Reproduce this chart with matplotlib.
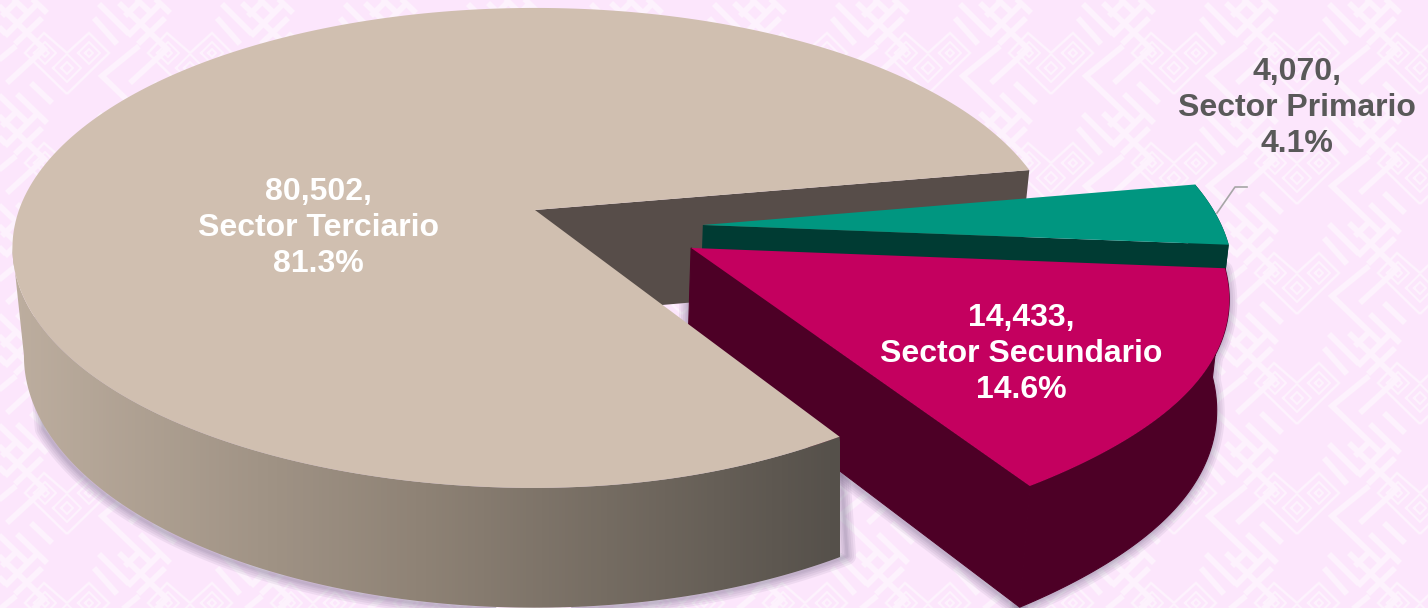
import numpy as np
import matplotlib
matplotlib.use("Agg")
import matplotlib.pyplot as plt
from matplotlib.colors import LinearSegmentedColormap
from matplotlib.patches import Polygon

plt.rcParams['font.family'] = ['Liberation Sans', 'DejaVu Sans']

sectors = ["Sector Terciario", "Sector Secundario", "Sector Primario"]
values = [80502, 14433, 4070]
percents = ["81.3%", "14.6%", "4.1%"]
top_colors = ["#d0bfb0", "#c4005f", "#009680"]
side_colors = ["#574d49", "#4d0026", "#003b33"]
explode = [(0.0, 0.0), (0.295, -0.158), (0.322, -0.0635)]
radius = [1.0, 0.995, 0.995]
label_pos = [(318, 228), (1021, 354), (1297, 108)]
label_colors = ["white", "white", "#595959"]

start_angle = 10.1

# perspective of the tilted pie, pixels
cx, cy = 535, 210
A, B, k = 516, 234, 0.158
depth = 106
shrink = 0.978


def project(x, y, low=False):
    w = 1 + k * y
    s = shrink if low else 1.0
    d = depth if low else 0
    return np.column_stack((cx + s * A * x / w, cy - s * B * y / w + d / w))


def arc(t1, t2, off, r=1.0, dent=0.0):
    # dent pulls the rim left around the lower right corner, as in the picture
    t = np.linspace(t1, t2, 240)
    a = (t + 180) % 360 - 180
    t = np.radians(t)
    x = off[0] + r * np.cos(t) - dent * np.exp(-((a + 57) / 22) ** 2)
    return x, off[1] + r * np.sin(t)


def top_face(t1, t2, off, r=1.0, dent=0.0):
    x, y = arc(t1, t2, off, r, dent)
    return np.vstack((project(np.array([off[0]]), np.array([off[1]])), project(x, y)))


def rim(t1, t2, off, r=1.0, dent=0.0, r_low=1.0, dent_low=0.0):
    x, y = arc(t1, t2, off, r, dent)
    xl, yl = arc(t1, t2, off, r_low, dent_low)
    return np.vstack((project(x, y), project(xl, yl, True)[::-1]))


def wall(t, off, r=1.0, dent=0.0, r_low=1.0, dent_low=0.0):
    x, y = arc(t, t, off, r, dent)
    xl, yl = arc(t, t, off, r_low, dent_low)
    ox, oy = np.array([off[0]]), np.array([off[1]])
    return np.vstack((project(ox, oy), project(x[:1], y[:1]),
                      project(xl[:1], yl[:1], True), project(ox, oy, True)))


def shadow(ax, pts, z):
    for lw in [13, 10, 7, 4, 2]:
        ax.add_patch(Polygon(pts + [-1, 2], closed=True, fc="none", ec="#55486a", lw=lw,
                             alpha=0.08, joinstyle="round", zorder=z))


def diamond(ax, x, y, r, lw, col):
    ax.plot([x - r, x, x + r, x, x - r], [y, y - r, y, y + r, y], color=col, lw=lw, zorder=1)


def draw_motif(ax, x, y, col):
    # background ornament, one repeat
    lines = [
        ([0, -42, -23, 0, 22, 42, 0], [28, -13, -33, -13, -33, -13, 28], 1.8),
        ([-30, -62], [-62, -30], 4.2), ([-25, -52], [-48, -22], 4.2), ([-52, -65], [-63, -50], 4.2),
        ([32, 62], [-62, -32], 4.2), ([27, 50], [-48, -22], 4.2),
        ([52, 100, 63], [-63, -17, 17], 4.2),
        ([72, 35, 85], [-20, 10, 58], 4.2),
        ([73, 103], [28, 57], 4.2), ([87, 108], [17, 37], 4.2),
    ]
    for xs, ys, lw in lines:
        ax.plot(x + np.array(xs), y + np.array(ys), color=col, lw=lw, zorder=1,
                solid_capstyle="butt", solid_joinstyle="miter")
    diamond(ax, x, y + 2, 14, 1.6, col)
    diamond(ax, x, y + 2, 6, 1.6, col)
    for s in [-1, 1]:
        diamond(ax, x + s * 22, y - 13, 11, 1.6, col)
        diamond(ax, x + s * 22, y - 13, 4, 1.6, col)


fig = plt.figure(figsize=(14.28, 6.08), dpi=100)
bg = "#fce6fc"
fig.patch.set_facecolor(bg)
ax = fig.add_axes([0, 0, 1, 1])
ax.set_facecolor(bg)
ax.axis("off")

for i in range(-1, 13):
    for j in range(-1, 7):
        draw_motif(ax, 67 + 123 * i, 66 + 110 * j, "#fdf2fd")

spans = np.array(values) / np.sum(values) * 360
t_ter = (start_angle, start_angle + spans[0])
t_sec = (t_ter[1], t_ter[1] + spans[1])
t_pri = (t_sec[1], t_sec[1] + spans[2])

# back wall of the large slice
ax.add_patch(Polygon(wall(t_ter[0], explode[0]), closed=True, fc=side_colors[0], ec="none", zorder=3))

# primario
ax.add_patch(Polygon(wall(t_pri[0], explode[2], radius[2]), closed=True, fc=side_colors[2], ec="none", zorder=4))
ax.add_patch(Polygon(rim(t_pri[0], t_pri[1], explode[2], radius[2]), closed=True, fc=side_colors[2], ec="none", zorder=4))
ax.add_patch(Polygon(top_face(t_pri[0], t_pri[1], explode[2], radius[2]), closed=True, fc=top_colors[2], ec="none", zorder=5))

# secundario
sec_side = rim(t_sec[0], t_sec[1], explode[1], radius[1], 0.026, 1.0, 0.028)
sec_wall = wall(t_sec[0], explode[1], radius[1], 0.026, 1.0, 0.028)
shadow(ax, sec_side, 2)
shadow(ax, sec_wall, 2)
ax.add_patch(Polygon(sec_wall, closed=True, fc=side_colors[1], ec=side_colors[1], lw=0.8, zorder=6))
ax.add_patch(Polygon(sec_side, closed=True, fc=side_colors[1], ec=side_colors[1], lw=0.8, zorder=6))
ax.add_patch(Polygon(top_face(t_sec[0], t_sec[1], explode[1], radius[1], 0.026), closed=True, fc=top_colors[1], ec="none", zorder=7))

# terciario, gradient side in front of the others
ter_side = rim(189, t_ter[1], explode[0], 1.0, 0.03, 1.0, 0.004)
shadow(ax, rim(205, t_ter[1], explode[0], 1.0, 0.03, 1.0, 0.004), 2)
side_patch = Polygon(ter_side, closed=True, fc="none", ec="none", zorder=8)
ax.add_patch(side_patch)
cmap = LinearSegmentedColormap.from_list("side", ["#bdae9f", "#8e8275", "#55504a"])
im = ax.imshow(np.linspace(0, 1, 256).reshape(1, -1), cmap=cmap, extent=[12, 840, 608, 200],
               aspect="auto", zorder=8)
im.set_clip_path(side_patch)
ax.add_patch(Polygon(top_face(t_ter[0], t_ter[1], explode[0], 1.0, 0.03), closed=True, fc=top_colors[0], ec="none", zorder=9))

# leader line of the outside label
ax.plot([1217, 1235, 1247], [213, 187, 187], color="#a6a6a6", lw=1.2, zorder=3)

for name, v, p, pos, c in zip(sectors, values, percents, label_pos, label_colors):
    ax.text(pos[0], pos[1], f"{v:,},\n{name}\n{p}", color=c, fontsize=23, fontweight="bold",
            ha="center", va="center", linespacing=1.26, zorder=10)

ax.set_xlim(0, 1428)
ax.set_ylim(608, 0)
fig.savefig("out.png", dpi=100, facecolor=bg)
